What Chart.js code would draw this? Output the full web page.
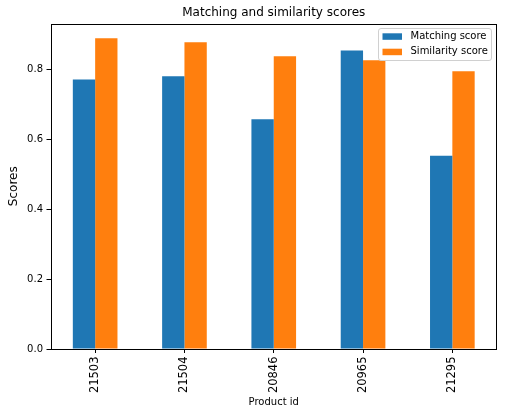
<!DOCTYPE html>
<html>
<head>
<meta charset="utf-8">
<script src="https://cdn.jsdelivr.net/npm/chart.js@4.4.0/dist/chart.umd.min.js"></script>
<style>
  html, body { margin: 0; padding: 0; background: #fff; }
  canvas { display: block; }
</style>
</head>
<body>
<canvas id="c" width="507" height="415"></canvas>
<script>
const categories = ['21503', '21504', '20846', '20965', '21295'];
const matchingScores = [0.772, 0.781, 0.658, 0.855, 0.553];
const similarityScores = [0.890, 0.878, 0.838, 0.827, 0.795];
const seriesLabels = ['Matching score', 'Similarity score'];
const seriesColors = ['#1f77b4', '#ff7f0e'];
const yTicks = [0, 0.2, 0.4, 0.6, 0.8];
const yMax = 0.932;
const chartTitle = 'Matching and similarity scores';
const xTitle = 'Product id';
const yTitle = 'Scores';

const FONT = '"DejaVu Sans", sans-serif';

const overlay = {
  id: 'overlay',
  afterDatasetsDraw(chart) {
    const ctx = chart.ctx;
    const ca = chart.chartArea;
    ctx.save();
    // frame (all four spines)
    ctx.strokeStyle = '#000';
    ctx.lineWidth = 1;
    ctx.strokeRect(Math.round(ca.left) + 0.5, Math.round(ca.top) + 0.5,
      Math.round(ca.right) - Math.round(ca.left) - 1, Math.round(ca.bottom) - Math.round(ca.top));
    const cx = (ca.left + ca.right) / 2;
    const cy = (ca.top + ca.bottom) / 2;
    ctx.fillStyle = '#000';
    // title
    ctx.font = '12px ' + FONT;
    ctx.textAlign = 'center';
    ctx.textBaseline = 'middle';
    ctx.fillText(chartTitle, cx, 13);
    // x title
    ctx.font = '10px ' + FONT;
    ctx.fillText(xTitle, cx, 402);
    // y title
    ctx.save();
    ctx.translate(13.5, cy);
    ctx.rotate(-Math.PI / 2);
    ctx.font = '12px ' + FONT;
    ctx.fillText(yTitle, 0, 0);
    ctx.restore();
    // legend
    const lx = 378.5, ly = 28.5, lw = 113, lh = 32, r = 2.5;
    ctx.beginPath();
    ctx.moveTo(lx + r, ly);
    ctx.lineTo(lx + lw - r, ly);
    ctx.arcTo(lx + lw, ly, lx + lw, ly + r, r);
    ctx.lineTo(lx + lw, ly + lh - r);
    ctx.arcTo(lx + lw, ly + lh, lx + lw - r, ly + lh, r);
    ctx.lineTo(lx + r, ly + lh);
    ctx.arcTo(lx, ly + lh, lx, ly + lh - r, r);
    ctx.lineTo(lx, ly + r);
    ctx.arcTo(lx, ly, lx + r, ly, r);
    ctx.closePath();
    ctx.fillStyle = 'rgba(255,255,255,0.8)';
    ctx.fill();
    ctx.strokeStyle = '#d0d0d0';
    ctx.stroke();
    ctx.font = '10px ' + FONT;
    ctx.textAlign = 'left';
    ctx.textBaseline = 'middle';
    chart.data.datasets.forEach((ds, i) => {
      const rowY = 36.3 + i * 15.4;
      ctx.fillStyle = ds.backgroundColor;
      ctx.fillRect(382.5, rowY - 3, 19.5, 6.5);
      ctx.fillStyle = '#000';
      ctx.fillText(ds.label, 410.5, rowY);
    });
    ctx.restore();
  }
};

new Chart(document.getElementById('c'), {
  type: 'bar',
  data: {
    labels: categories,
    datasets: [
      { label: seriesLabels[0], data: matchingScores, backgroundColor: seriesColors[0] },
      { label: seriesLabels[1], data: similarityScores, backgroundColor: seriesColors[1] }
    ]
  },
  options: {
    responsive: false,
    animation: false,
    devicePixelRatio: 1,
    layout: { padding: { left: 0, right: 10, top: 23.5, bottom: 0 } },
    datasets: { bar: { categoryPercentage: 0.5, barPercentage: 1.0, borderWidth: 0 } },
    plugins: { legend: { display: false }, title: { display: false }, tooltip: { enabled: false } },
    scales: {
      x: {
        offset: true,
        afterFit(scale) { scale.height = 66; },
        grid: { display: true, drawOnChartArea: false, offset: false, tickLength: 4, color: '#000', tickWidth: 1 },
        border: { display: false },
        ticks: { autoSkip: false, minRotation: 90, maxRotation: 90, padding: 3.5, color: '#000', font: { family: FONT, size: 11.5 } }
      },
      y: {
        min: 0,
        max: yMax,
        afterFit(scale) { scale.width = 50.5; },
        afterBuildTicks(scale) { scale.ticks = yTicks.map(v => ({ value: v })); },
        grid: { display: true, drawOnChartArea: false, tickLength: 4, color: '#000', tickWidth: 1 },
        border: { display: false },
        ticks: { padding: 3.5, color: '#000', font: { family: FONT, size: 10 }, callback: v => Number(v).toFixed(1) }
      }
    }
  },
  plugins: [overlay]
});
</script>
</body>
</html>
